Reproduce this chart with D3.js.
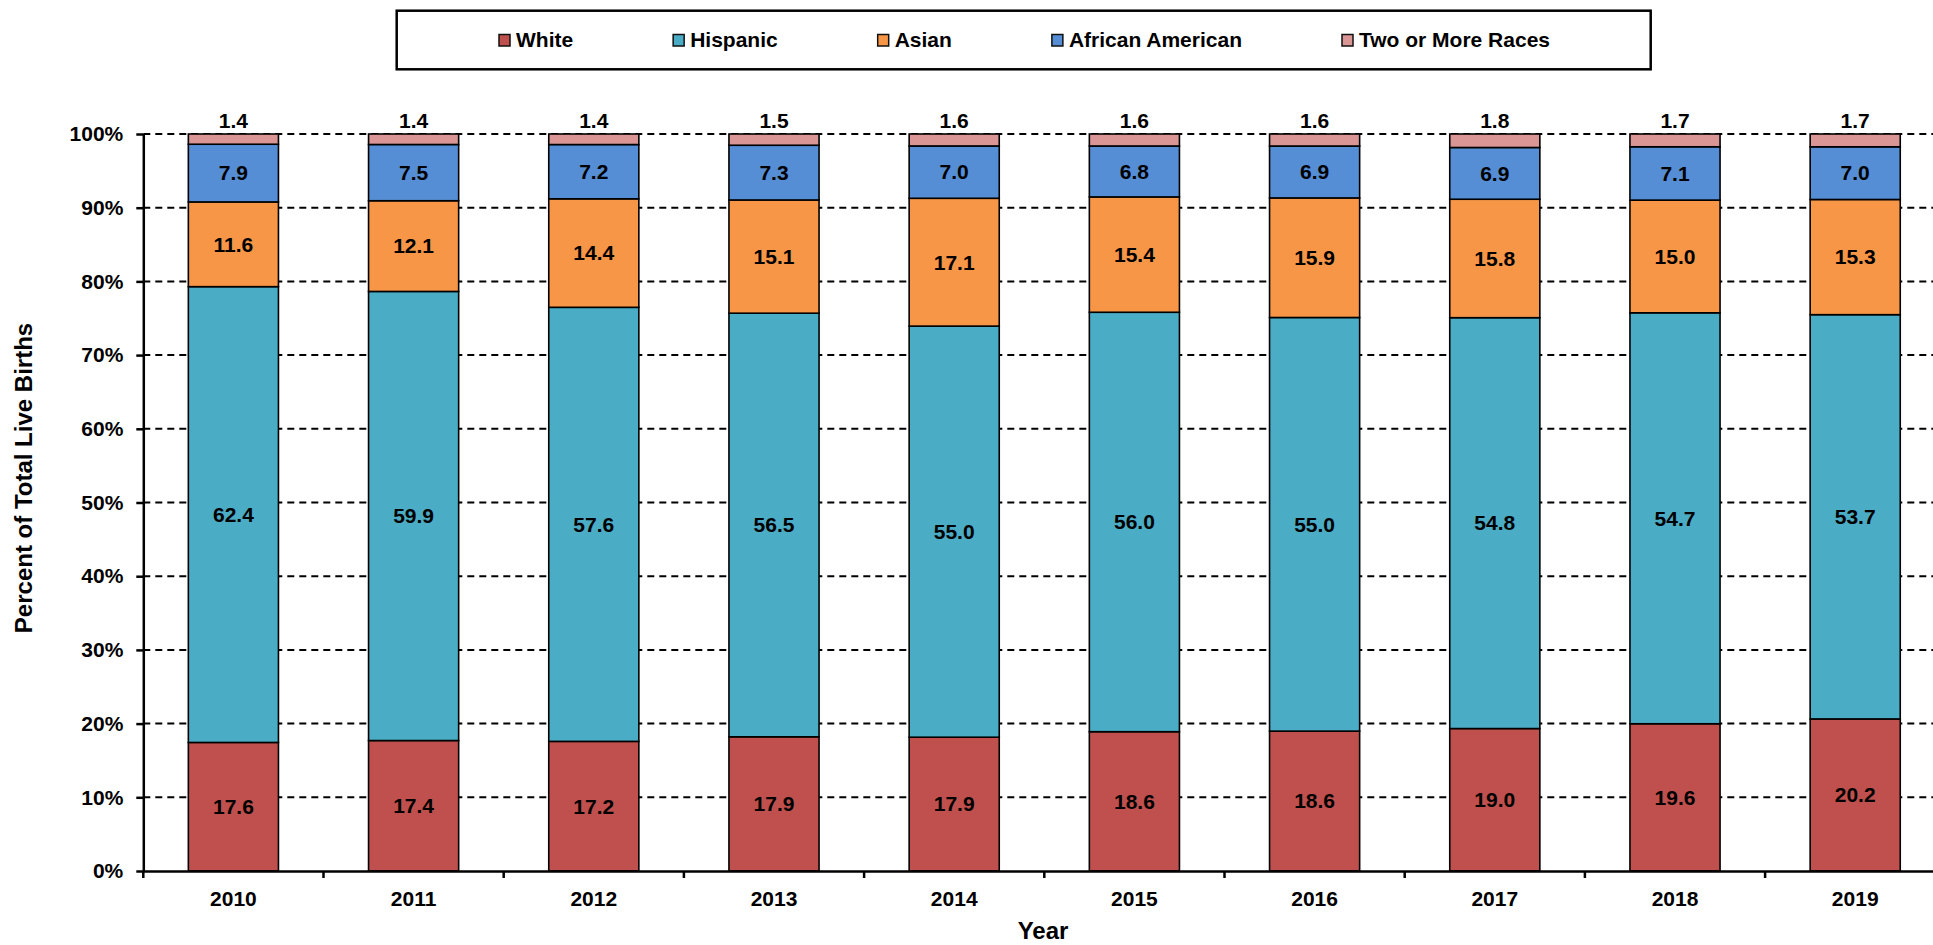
<!DOCTYPE html>
<html>
<head>
<meta charset="utf-8">
<script src="https://cdn.jsdelivr.net/npm/d3@7"></script>
<style>
  html, body { margin: 0; padding: 0; background: #fff; }
  svg { display: block; font-family: "Liberation Sans", Arial, sans-serif; font-weight: bold; }
</style>
</head>
<body>
<svg id="chart" width="1933" height="945"></svg>
<script>
const years = ["2010","2011","2012","2013","2014","2015","2016","2017","2018","2019"];
const seriesNames = ["White","Hispanic","Asian","African American","Two or More Races"];
const white    = [17.6, 17.4, 17.2, 17.9, 17.9, 18.6, 18.6, 19.0, 19.6, 20.2];
const hispanic = [62.4, 59.9, 57.6, 56.5, 55.0, 56.0, 55.0, 54.8, 54.7, 53.7];
const asian    = [11.6, 12.1, 14.4, 15.1, 17.1, 15.4, 15.9, 15.8, 15.0, 15.3];
const african  = [7.9, 7.5, 7.2, 7.3, 7.0, 6.8, 6.9, 6.9, 7.1, 7.0];
const twoMore  = [1.4, 1.4, 1.4, 1.5, 1.6, 1.6, 1.6, 1.8, 1.7, 1.7];
const yTicks   = [0, 0.1, 0.2, 0.3, 0.4, 0.5, 0.6, 0.7, 0.8, 0.9, 1.0];
const colors   = ["#C0504D", "#4BACC6", "#F79646", "#558ED5", "#D99694"];

const seriesValues = [white, hispanic, asian, african, twoMore];
const rows = years.map((yr, i) => {
  const r = { year: yr };
  seriesNames.forEach((s, k) => r[s] = seriesValues[k][i]);
  return r;
});

const svg = d3.select("#chart");
const pLeft = 143.3, pRight = 1945.3, pTop = 134, pBottom = 871;

const x = d3.scaleBand().domain(years).range([pLeft, pRight]).paddingInner(0.5).paddingOuter(0.25);
const y = d3.scaleLinear().domain([0, 1]).range([pBottom, pTop]);
const color = d3.scaleOrdinal().domain(seriesNames).range(colors);

const stack = d3.stack().keys(seriesNames).offset(d3.stackOffsetExpand);
const stacked = stack(rows);

// gridlines
svg.append("g").selectAll("line").data(yTicks.filter(d => d > 0)).join("line")
  .attr("x1", pLeft).attr("x2", 1933)
  .attr("y1", d => y(d)).attr("y2", d => y(d))
  .attr("stroke", "#000").attr("stroke-width", 2).attr("stroke-dasharray", "7,5");

// bars
const layers = svg.append("g").selectAll("g").data(stacked).join("g")
  .attr("fill", d => color(d.key));
layers.selectAll("rect").data(d => d).join("rect")
  .attr("x", d => x(d.data.year))
  .attr("width", x.bandwidth())
  .attr("y", d => y(d[1]))
  .attr("height", d => y(d[0]) - y(d[1]))
  .attr("stroke", "#000").attr("stroke-width", 1.6);

// segment labels (first four series)
stacked.slice(0, 4).forEach(layer => {
  svg.append("g").selectAll("text").data(layer).join("text")
    .attr("x", d => x(d.data.year) + x.bandwidth() / 2)
    .attr("y", d => (y(d[0]) + y(d[1])) / 2)
    .attr("dy", "0.35em")
    .attr("text-anchor", "middle")
    .attr("font-size", 21)
    .attr("fill", "#000")
    .text(d => d3.format(".1f")(d.data[layer.key]));
});
// top labels for Two or More Races
const lastLayer = stacked[stacked.length - 1];
svg.append("g").selectAll("text").data(lastLayer).join("text")
  .attr("x", d => x(d.data.year) + x.bandwidth() / 2)
  .attr("y", d => y(d[1]) - 6)
  .attr("text-anchor", "middle")
  .attr("font-size", 21)
  .text(d => d3.format(".1f")(d.data[lastLayer.key]));

// y axis
const yAxis = svg.append("g").attr("transform", `translate(${pLeft},0)`)
  .call(d3.axisLeft(y).tickValues(yTicks).tickFormat(d3.format(".0%")).tickSize(7).tickPadding(13));
yAxis.select(".domain").attr("stroke", "#000").attr("stroke-width", 2.5).attr("d", `M0.5,${pTop}V${pBottom}`);
yAxis.selectAll(".tick line").attr("stroke", "#000").attr("stroke-width", 2.5);
yAxis.selectAll(".tick text").attr("font-size", 21).attr("font-family", "Liberation Sans, Arial, sans-serif").attr("font-weight", "bold").attr("fill", "#000");

// x axis
const xAxis = svg.append("g").attr("transform", `translate(0,${pBottom})`)
  .call(d3.axisBottom(x).tickSize(0).tickPadding(20));
xAxis.select(".domain").attr("stroke", "#000").attr("stroke-width", 2.5).attr("d", `M${pLeft},0.5H1933`);
xAxis.selectAll(".tick text").attr("font-size", 21).attr("font-family", "Liberation Sans, Arial, sans-serif").attr("font-weight", "bold").attr("fill", "#000");
const step = x.step();
svg.append("g").selectAll("line").data(d3.range(0, years.length + 1)).join("line")
  .attr("x1", i => pLeft + i * step).attr("x2", i => pLeft + i * step)
  .attr("y1", pBottom).attr("y2", pBottom + 7)
  .attr("stroke", "#000").attr("stroke-width", 2.5);

// axis titles
svg.append("text")
  .attr("transform", `translate(32,478) rotate(-90)`)
  .attr("text-anchor", "middle")
  .attr("font-size", 24)
  .text("Percent of Total Live Births");
svg.append("text")
  .attr("x", 1043).attr("y", 939)
  .attr("text-anchor", "middle")
  .attr("font-size", 24)
  .text("Year");

// legend
const legend = svg.append("g");
legend.append("rect")
  .attr("x", 396.7).attr("y", 10.7).attr("width", 1254).attr("height", 58.6)
  .attr("fill", "#fff").attr("stroke", "#000").attr("stroke-width", 2.5);
let lx = 499;
seriesNames.forEach((name, i) => {
  legend.append("rect")
    .attr("x", lx).attr("y", 34.5).attr("width", 11).attr("height", 11.5)
    .attr("fill", colors[i]).attr("stroke", "#111").attr("stroke-width", 1.5);
  const t = legend.append("text")
    .attr("x", lx + 17).attr("y", 46.5)
    .attr("font-size", 21)
    .text(name);
  lx += 17 + t.node().getComputedTextLength() + 100;
});
</script>
</body>
</html>
